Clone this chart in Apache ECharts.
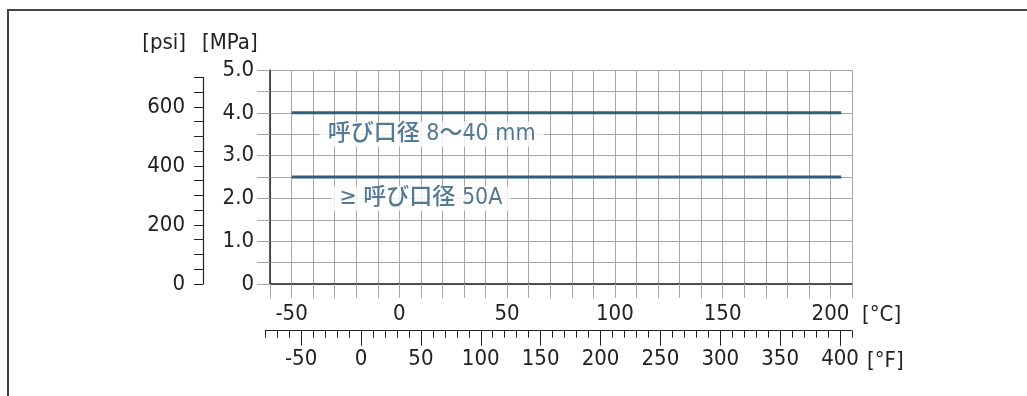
<!DOCTYPE html>
<html>
<head>
<meta charset="utf-8">
<script src="https://cdn.jsdelivr.net/npm/echarts@6/dist/echarts.min.js"></script>
<style>
html,body{margin:0;padding:0;background:#fff;}
#chart{width:1027px;height:396px;}
</style>
</head>
<body>
<div id="chart"></div>
<script>
// ---- data ----
const tempRangeC = [-50, 205];            // °C, start/end of both curves
const pressure8to40 = [4.0, 4.0];          // MPa
const pressure50A = [2.5, 2.5];            // MPa
const curveLabels = ['呼び口径 8～40 mm', '≥ 呼び口径 50A'];
const curveLabelAnchors = [[15, 3.5], [10, 2.0]]; // °C, MPa
const cTickLabels = [-50, 0, 50, 100, 150, 200];
const fTickLabels = [-50, 0, 50, 100, 150, 200, 250, 300, 350, 400];
const psiTickLabels = [0, 200, 400, 600];
const mpaTickLabels = ['0', '1.0', '2.0', '3.0', '4.0', '5.0'];

const fMinor = [];
for (let v = -80; v <= 410; v += 10) fMinor.push(v);

const FONT = '"DejaVu Sans Condensed", "DejaVu Sans", "Noto Sans CJK JP", sans-serif';
const FS = 22;
const TXT = '#222';
const BLUE = '#2f5d7c';
const LBL = '#285878';
const GRID = '#a6a6a6';

const chart = echarts.init(document.getElementById('chart'), null, {renderer: 'canvas'});
const option = {
  animation: false,
  backgroundColor: '#fff',
  textStyle: {fontFamily: FONT},
  grid: [
    {left: 270, top: 70, width: 582, height: 214},
    {left: 203, top: 77.4, width: 1, height: 206.6},
    {left: 265.2, top: 320, width: 586.8, height: 10.7}
  ],
  xAxis: [
    {
      gridIndex: 0, type: 'value', min: -60, max: 210, interval: 10,
      axisLine: {show: true, onZero: false, lineStyle: {color: TXT, width: 1.5}},
      axisTick: {show: true, length: 14, lineStyle: {color: GRID, width: 1}},
      axisLabel: {
        margin: 19, fontSize: FS, color: TXT, fontFamily: FONT,
        formatter: v => (cTickLabels.indexOf(v) >= 0 ? String(v) : '')
      },
      splitLine: {show: true, lineStyle: {color: GRID, width: 1}}
    },
    {gridIndex: 1, type: 'value', show: false},
    {
      gridIndex: 2, type: 'value', min: -80, max: 410, position: 'bottom',
      axisLine: {show: true, onZero: false, lineStyle: {color: TXT, width: 1.2}},
      axisTick: {show: true, length: 7, customValues: fMinor, lineStyle: {color: TXT, width: 1}},
      axisLabel: {show: false},
      splitLine: {show: false}
    },
    {
      gridIndex: 2, type: 'value', min: -80, max: 410, position: 'bottom',
      axisLine: {show: false, onZero: false},
      axisTick: {show: true, length: 15, customValues: fTickLabels, lineStyle: {color: TXT, width: 1}},
      axisLabel: {show: true, customValues: fTickLabels, margin: 18, fontSize: FS, color: TXT, fontFamily: FONT},
      splitLine: {show: false}
    }
  ],
  yAxis: [
    {
      gridIndex: 0, type: 'value', min: 0, max: 5, interval: 0.5,
      axisLine: {show: true, onZero: false, lineStyle: {color: TXT, width: 1.5}},
      axisTick: {show: true, length: 13, lineStyle: {color: GRID, width: 1}},
      axisLabel: {
        margin: 16, fontSize: FS, color: TXT, fontFamily: FONT,
        formatter: v => {
          const i = Math.round(v * 2);
          return i % 2 === 0 ? mpaTickLabels[i / 2] : '';
        }
      },
      splitLine: {show: true, lineStyle: {color: GRID, width: 1}}
    },
    {
      gridIndex: 1, type: 'value', min: 0, max: 700, interval: 50,
      axisLine: {show: true, onZero: false, lineStyle: {color: TXT, width: 1.2}},
      axisTick: {show: true, length: 9, lineStyle: {color: TXT, width: 1}},
      axisLabel: {
        margin: 18, fontSize: FS, color: TXT, fontFamily: FONT,
        formatter: v => (psiTickLabels.indexOf(v) >= 0 ? String(v) : '')
      },
      splitLine: {show: false}
    },
    {gridIndex: 2, type: 'value', show: false}
  ],
  series: [
    {
      type: 'line', xAxisIndex: 0, yAxisIndex: 0, symbol: 'none', silent: true,
      lineStyle: {color: BLUE, width: 3},
      data: tempRangeC.map((t, i) => [t, pressure8to40[i]]), z: 3
    },
    {
      type: 'line', xAxisIndex: 0, yAxisIndex: 0, symbol: 'none', silent: true,
      lineStyle: {color: BLUE, width: 3},
      data: tempRangeC.map((t, i) => [t, pressure50A[i]]), z: 3
    },
    {
      type: 'scatter', xAxisIndex: 0, yAxisIndex: 0, symbolSize: 1, silent: true,
      itemStyle: {color: 'rgba(0,0,0,0)'}, z: 4,
      data: curveLabelAnchors.map((p, i) => ({value: p, name: curveLabels[i]})),
      label: {
        show: true, position: 'inside', formatter: '{b}',
        fontSize: 23, fontWeight: 500, color: LBL, fontFamily: FONT,
        backgroundColor: '#fff', padding: [1, 8]
      }
    }
  ],
  graphic: [
    {type: 'rect', shape: {x: 8, y: 10, width: 1200, height: 600},
     style: {fill: 'none', stroke: '#444', lineWidth: 2}, silent: true},
    {type: 'text', x: 186, y: 43, style: {text: '[psi]', font: FS + 'px ' + FONT, fill: TXT, align: 'right', verticalAlign: 'middle'}},
    {type: 'text', x: 202, y: 43, style: {text: '[MPa]', font: FS + 'px ' + FONT, fill: TXT, align: 'left', verticalAlign: 'middle'}},
    {type: 'text', x: 862, y: 315, style: {text: '[°C]', font: FS + 'px ' + FONT, fill: TXT, align: 'left', verticalAlign: 'middle'}},
    {type: 'text', x: 867, y: 361, style: {text: '[°F]', font: FS + 'px ' + FONT, fill: TXT, align: 'left', verticalAlign: 'middle'}}
  ]
};
chart.setOption(option);
</script>
</body>
</html>
